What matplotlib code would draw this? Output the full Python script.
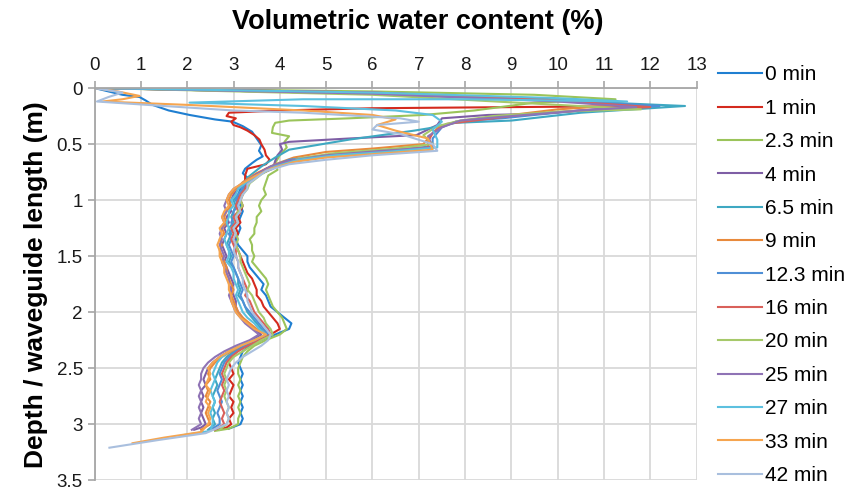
import matplotlib
matplotlib.use('Agg')
import matplotlib.pyplot as plt

plt.rcParams['font.family'] = ['Liberation Sans', 'DejaVu Sans']

LABELS = ['0 min', '1 min', '2.3 min', '4 min', '6.5 min', '9 min', '12.3 min',
          '16 min', '20 min', '25 min', '27 min', '33 min', '42 min']
COLORS = ['#1f7fd1', '#d42a1e', '#9bc45a', '#7e5ea5', '#3ea8c2', '#e88a3c', '#4f8fd6',
          '#d9605a', '#a6c96a', '#8f73b5', '#5cc0df', '#f6a54f', '#a9bfde']

# depth grid shared by all profiles below 0.9 m
BODY_DEPTH = [0.9, 0.95, 1.0, 1.05, 1.1, 1.15, 1.2, 1.25, 1.3, 1.35, 1.4, 1.45, 1.5,
              1.55, 1.6, 1.65, 1.7, 1.75, 1.8, 1.85, 1.9, 1.95, 2.0, 2.05, 2.1, 2.15,
              2.2, 2.25, 2.3, 2.35, 2.4, 2.45, 2.5, 2.55, 2.6, 2.65, 2.7, 2.75, 2.8,
              2.85, 2.9, 2.95, 3.0]

# near-surface part of each profile: (water content %, depth m)
top_0 = [(0.0, 0.0), (0.3, 0.03), (0.6, 0.06), (0.97, 0.08), (1.1, 0.11), (1.25, 0.15),
         (1.6, 0.2), (2.05, 0.24), (2.6, 0.28), (2.98, 0.3), (3.2, 0.34), (3.4, 0.39),
         (3.5, 0.45), (3.6, 0.51), (3.55, 0.56), (3.63, 0.61), (3.5, 0.64), (3.4, 0.67),
         (3.25, 0.72), (3.2, 0.76), (3.3, 0.8), (3.2, 0.85)]
top_1 = [(0.1, 0.0), (6.0, 0.05), (10.0, 0.1), (12.1, 0.16), (9.0, 0.17), (6.0, 0.18),
         (4.0, 0.2), (2.9, 0.22), (2.85, 0.25), (3.05, 0.27), (2.95, 0.3), (3.0, 0.33),
         (3.15, 0.35), (3.3, 0.38), (3.45, 0.42), (3.56, 0.46), (3.6, 0.5), (3.67, 0.55),
         (3.7, 0.6), (3.78, 0.64), (3.7, 0.68), (3.3, 0.72), (3.25, 0.78), (3.25, 0.82),
         (3.25, 0.86)]
top_2 = [(0.1, 0.0), (6.0, 0.03), (9.5, 0.06), (11.25, 0.1), (9.5, 0.13), (8.2, 0.2),
         (7.1, 0.24), (5.5, 0.27), (4.2, 0.29), (3.9, 0.31), (3.85, 0.35), (3.83, 0.4),
         (4.2, 0.43), (4.1, 0.48), (4.15, 0.53), (4.0, 0.6), (3.9, 0.67), (3.95, 0.73),
         (3.75, 0.78), (3.7, 0.84)]
top_3 = [(0.1, 0.0), (6.0, 0.05), (10.0, 0.11), (11.9, 0.17), (10.8, 0.19), (9.6, 0.23),
         (8.5, 0.24), (7.5, 0.27), (7.4, 0.33), (6.95, 0.42), (5.5, 0.45), (4.2, 0.48),
         (4.0, 0.5), (4.05, 0.55), (3.95, 0.6), (3.9, 0.65), (3.85, 0.72), (3.5, 0.78),
         (3.3, 0.85)]
top_4 = [(0.1, 0.0), (6.0, 0.05), (10.5, 0.12), (12.75, 0.16), (10.5, 0.22), (9.0, 0.29),
         (7.8, 0.31), (7.2, 0.36), (6.9, 0.38), (5.5, 0.46), (4.2, 0.55), (3.9, 0.62),
         (3.6, 0.7), (3.3, 0.8)]
top_5 = [(0.1, 0.0), (6.0, 0.04), (9.5, 0.1), (11.5, 0.15), (10.0, 0.19), (9.0, 0.24),
         (8.5, 0.27), (7.8, 0.3), (7.4, 0.36), (7.2, 0.45), (7.1, 0.5), (6.0, 0.54),
         (5.0, 0.57), (4.3, 0.62), (3.9, 0.68), (3.5, 0.76), (3.2, 0.84)]
top_6 = [(0.1, 0.0), (6.0, 0.04), (10.0, 0.11), (12.2, 0.16), (10.5, 0.2), (9.5, 0.24),
         (8.8, 0.27), (7.8, 0.3), (7.5, 0.35), (7.3, 0.45), (7.3, 0.52), (6.2, 0.56),
         (5.0, 0.6), (4.2, 0.64), (3.8, 0.7), (3.5, 0.77), (3.25, 0.85)]
top_7 = [(0.1, 0.0), (6.0, 0.04), (10.0, 0.11), (12.0, 0.17), (10.5, 0.2), (9.2, 0.24),
         (8.4, 0.28), (7.6, 0.32), (7.3, 0.4), (7.2, 0.48), (7.2, 0.53), (6.0, 0.57),
         (4.8, 0.61), (4.1, 0.66), (3.7, 0.72), (3.45, 0.78), (3.3, 0.86)]
top_8 = [(0.1, 0.0), (6.0, 0.06), (10.0, 0.15), (11.8, 0.19), (10.0, 0.21), (8.6, 0.25),
         (7.9, 0.29), (7.4, 0.34), (7.1, 0.42), (7.3, 0.5), (6.5, 0.54), (5.2, 0.58),
         (4.4, 0.63), (3.9, 0.7), (3.6, 0.77), (3.35, 0.85)]
top_9 = [(0.1, 0.0), (6.0, 0.05), (10.0, 0.12), (11.7, 0.17), (10.5, 0.2), (9.6, 0.23),
         (8.7, 0.26), (7.9, 0.29), (7.5, 0.35), (7.2, 0.43), (7.3, 0.53), (6.2, 0.56),
         (5.0, 0.6), (4.2, 0.65), (3.8, 0.7), (3.5, 0.77), (3.2, 0.85)]
top_10 = [(0.1, 0.0), (6.0, 0.04), (10.0, 0.09), (11.5, 0.12), (8.0, 0.1), (4.5, 0.1),
          (2.05, 0.13), (4.5, 0.16), (6.5, 0.2), (7.3, 0.24), (7.5, 0.3), (7.3, 0.37),
          (7.4, 0.46), (7.4, 0.53), (6.3, 0.57), (5.2, 0.6), (4.4, 0.64), (3.9, 0.7),
          (3.5, 0.78), (3.25, 0.85)]
top_11 = [(0.0, 0.0), (0.5, 0.03), (0.97, 0.07), (0.6, 0.1), (0.17, 0.12), (2.0, 0.15),
          (4.5, 0.2), (6.0, 0.24), (6.5, 0.28), (6.1, 0.33), (6.5, 0.38), (7.2, 0.45),
          (7.3, 0.55), (6.0, 0.59), (5.0, 0.62), (4.3, 0.66), (3.8, 0.72), (3.45, 0.79),
          (3.15, 0.86)]
top_12 = [(0.0, 0.0), (0.6, 0.04), (0.3, 0.08), (0.05, 0.12), (1.5, 0.16), (3.0, 0.2),
          (4.5, 0.22), (6.6, 0.27), (7.0, 0.3), (6.1, 0.33), (6.0, 0.37), (6.6, 0.41),
          (7.3, 0.5), (7.4, 0.56), (6.0, 0.6), (5.0, 0.64), (4.2, 0.68), (3.7, 0.74),
          (3.5, 0.8), (3.3, 0.86)]

# water content on BODY_DEPTH
body_0 = [3.15, 3.1, 3.1, 3.15, 3.2, 3.15, 3.1, 3.15, 3.1, 3.05, 3.1, 3.2, 3.3, 3.3, 3.35,
          3.45, 3.55, 3.65, 3.6, 3.7, 3.75, 3.8, 3.95, 4.1, 4.25, 4.2, 3.9, 3.6, 3.35, 3.2,
          3.15, 3.1, 3.15, 3.2, 3.15, 3.2, 3.15, 3.2, 3.15, 3.2, 3.15, 3.2, 3.15]
body_1 = [3.25, 3.2, 3.15, 3.2, 3.15, 3.1, 3.15, 3.05, 3.1, 3.0, 3.05, 3.1, 3.15, 3.2, 3.25,
          3.3, 3.4, 3.45, 3.5, 3.5, 3.6, 3.65, 3.75, 3.85, 3.95, 4.0, 3.8, 3.5, 3.25, 3.05,
          2.95, 2.9, 2.95, 3.0, 2.9, 3.0, 2.95, 2.9, 3.0, 2.95, 3.0, 2.9, 2.95]
body_2 = [3.65, 3.7, 3.6, 3.55, 3.6, 3.5, 3.5, 3.45, 3.45, 3.35, 3.4, 3.4, 3.45, 3.4, 3.5,
          3.6, 3.7, 3.75, 3.7, 3.75, 3.8, 3.85, 3.95, 4.05, 4.1, 4.15, 4.0, 3.7, 3.45, 3.3,
          3.2, 3.15, 3.1, 3.1, 3.15, 3.1, 3.15, 3.1, 3.15, 3.1, 3.15, 3.1, 3.1]
body_3 = [3.1, 3.0, 2.95, 2.9, 2.95, 2.85, 2.9, 2.8, 2.85, 2.8, 2.75, 2.8, 2.85, 2.8, 2.85,
          2.9, 2.95, 3.0, 2.95, 3.0, 3.05, 3.05, 3.1, 3.2, 3.3, 3.45, 3.6, 3.4, 3.1, 2.9,
          2.7, 2.55, 2.45, 2.4, 2.35, 2.4, 2.3, 2.35, 2.3, 2.35, 2.3, 2.35, 2.4]
body_4 = [3.2, 3.1, 3.0, 3.05, 3.0, 2.95, 3.0, 2.9, 2.95, 2.9, 2.85, 2.9, 2.95, 2.9, 3.0,
          3.05, 3.1, 3.1, 3.15, 3.1, 3.2, 3.25, 3.3, 3.4, 3.5, 3.6, 3.7, 3.5, 3.25, 3.0,
          2.85, 2.75, 2.7, 2.65, 2.6, 2.65, 2.6, 2.55, 2.6, 2.55, 2.6, 2.55, 2.6]
body_5 = [3.05, 2.95, 2.9, 2.95, 2.85, 2.8, 2.85, 2.75, 2.8, 2.7, 2.75, 2.7, 2.75, 2.8, 2.85,
          2.85, 2.9, 2.95, 3.0, 2.95, 3.0, 3.05, 3.1, 3.2, 3.35, 3.5, 3.75, 3.5, 3.2, 2.95,
          2.75, 2.6, 2.5, 2.45, 2.5, 2.4, 2.45, 2.4, 2.5, 2.45, 2.4, 2.45, 2.5]
body_6 = [3.2, 3.1, 3.05, 3.1, 3.0, 3.0, 2.95, 3.0, 2.9, 2.95, 2.9, 2.95, 3.0, 2.95, 3.0,
          3.05, 3.1, 3.15, 3.2, 3.15, 3.2, 3.25, 3.35, 3.45, 3.55, 3.65, 3.75, 3.5, 3.25, 3.05,
          2.9, 2.8, 2.75, 2.7, 2.75, 2.7, 2.65, 2.7, 2.75, 2.7, 2.65, 2.7, 2.7]
body_7 = [3.25, 3.15, 3.1, 3.05, 3.1, 3.0, 3.05, 2.95, 3.0, 2.95, 3.0, 3.05, 3.05, 3.1, 3.1,
          3.15, 3.2, 3.25, 3.3, 3.25, 3.35, 3.4, 3.45, 3.55, 3.65, 3.75, 3.8, 3.55, 3.3, 3.1,
          2.95, 2.85, 2.8, 2.75, 2.8, 2.75, 2.8, 2.75, 2.7, 2.75, 2.8, 2.75, 2.8]
body_8 = [3.3, 3.2, 3.15, 3.2, 3.1, 3.05, 3.1, 3.0, 3.05, 3.1, 3.05, 3.1, 3.15, 3.15, 3.2,
          3.25, 3.3, 3.35, 3.3, 3.4, 3.45, 3.5, 3.55, 3.65, 3.7, 3.8, 3.85, 3.6, 3.4, 3.2,
          3.0, 2.9, 2.85, 2.8, 2.85, 2.8, 2.85, 2.8, 2.85, 2.9, 2.85, 2.9, 2.85]
body_9 = [3.0, 2.9, 2.85, 2.8, 2.85, 2.75, 2.8, 2.75, 2.7, 2.75, 2.7, 2.75, 2.8, 2.75, 2.8,
          2.85, 2.9, 2.9, 2.95, 2.9, 2.95, 3.0, 3.05, 3.15, 3.25, 3.4, 3.55, 3.35, 3.05, 2.8,
          2.6, 2.45, 2.35, 2.3, 2.3, 2.25, 2.3, 2.25, 2.3, 2.25, 2.3, 2.25, 2.3]
body_10 = [3.1, 3.05, 2.95, 3.0, 2.9, 2.9, 2.85, 2.9, 2.85, 2.8, 2.85, 2.9, 2.9, 2.85, 2.95,
           3.0, 3.0, 3.05, 3.1, 3.05, 3.1, 3.15, 3.2, 3.3, 3.45, 3.55, 3.7, 3.45, 3.15, 2.9,
           2.75, 2.65, 2.6, 2.55, 2.6, 2.55, 2.5, 2.55, 2.6, 2.55, 2.5, 2.55, 2.55]
body_11 = [3.0, 2.9, 2.85, 2.9, 2.8, 2.75, 2.8, 2.7, 2.75, 2.7, 2.65, 2.7, 2.7, 2.75, 2.8,
           2.8, 2.85, 2.9, 2.9, 2.95, 2.95, 3.0, 3.05, 3.15, 3.3, 3.45, 3.7, 3.45, 3.15, 2.9,
           2.7, 2.55, 2.45, 2.5, 2.45, 2.4, 2.5, 2.45, 2.4, 2.5, 2.45, 2.5, 2.45]
body_12 = [3.3, 3.2, 3.15, 3.1, 3.15, 3.05, 3.1, 3.0, 3.05, 3.0, 3.05, 3.0, 3.05, 3.1, 3.1,
           3.15, 3.2, 3.2, 3.25, 3.3, 3.3, 3.35, 3.4, 3.5, 3.6, 3.7, 3.8, 3.75, 3.6, 3.4,
           3.2, 3.05, 2.95, 2.9, 2.85, 2.9, 2.85, 2.9, 2.85, 2.9, 2.85, 2.9, 2.85]

# bottom end of each profile: (water content %, depth m)
tail_0 = [(2.9, 3.04)]
tail_1 = [(2.85, 3.03), (2.6, 3.05)]
tail_2 = [(2.9, 3.04), (2.6, 3.06)]
tail_3 = [(2.3, 3.03), (2.15, 3.05)]
tail_4 = [(2.45, 3.05)]
tail_5 = [(2.3, 3.05)]
tail_6 = [(2.5, 3.05)]
tail_7 = [(2.6, 3.05)]
tail_8 = [(2.7, 3.05)]
tail_9 = [(2.1, 3.05)]
tail_10 = [(2.5, 3.06), (1.88, 3.1)]
tail_11 = [(2.3, 3.07), (1.5, 3.12), (0.82, 3.17)]
tail_12 = [(2.4, 3.08), (1.4, 3.14), (0.32, 3.21)]

TOPS = [top_0, top_1, top_2, top_3, top_4, top_5, top_6, top_7, top_8, top_9,
        top_10, top_11, top_12]
BODIES = [body_0, body_1, body_2, body_3, body_4, body_5, body_6, body_7, body_8,
          body_9, body_10, body_11, body_12]
TAILS = [tail_0, tail_1, tail_2, tail_3, tail_4, tail_5, tail_6, tail_7, tail_8,
         tail_9, tail_10, tail_11, tail_12]

fig = plt.figure(figsize=(8.6, 4.92), dpi=100)
ax = fig.add_axes([0.110, 0.024, 0.700, 0.797])

for label, color, top, body, tail in zip(LABELS, COLORS, TOPS, BODIES, TAILS):
    wc = [p[0] for p in top] + body + [p[0] for p in tail]
    depth = [p[1] for p in top] + BODY_DEPTH + [p[1] for p in tail]
    ax.plot(wc, depth, color=color, linewidth=1.5, label=label)

ax.set_xlim(0, 13)
ax.set_ylim(3.5, 0)
ax.set_xticks(range(0, 14))
ax.set_yticks([0, 0.5, 1, 1.5, 2, 2.5, 3, 3.5])
ax.set_yticklabels(['0', '0.5', '1', '1.5', '2', '2.5', '3', '3.5'])
ax.xaxis.tick_top()
ax.tick_params(axis='both', labelsize=13.5, colors='#a6a6a6', labelcolor='#1a1a1a',
               length=5, width=1.2)
ax.tick_params(axis='x', pad=5)
ax.grid(True, color='#d9d9d9', linewidth=1.3)
ax.set_axisbelow(True)
for side in ['right', 'bottom']:
    ax.spines[side].set_visible(False)
for side in ['left', 'top']:
    ax.spines[side].set_color('#a6a6a6')
    ax.spines[side].set_linewidth(1.3)

ax.set_ylabel('Depth / waveguide length (m)', fontsize=19, fontweight='bold', labelpad=6)
fig.text(418 / 860, 1 - 22 / 492, 'Volumetric water content (%)', fontsize=19.5,
         fontweight='bold', ha='center', va='center')

ax.legend(loc='upper left', bbox_to_anchor=(1.0216, 1.079), frameon=False, fontsize=15,
          handlelength=2.1, handletextpad=0.15, labelspacing=0.69, borderaxespad=0)

fig.savefig('out.png', dpi=100)
